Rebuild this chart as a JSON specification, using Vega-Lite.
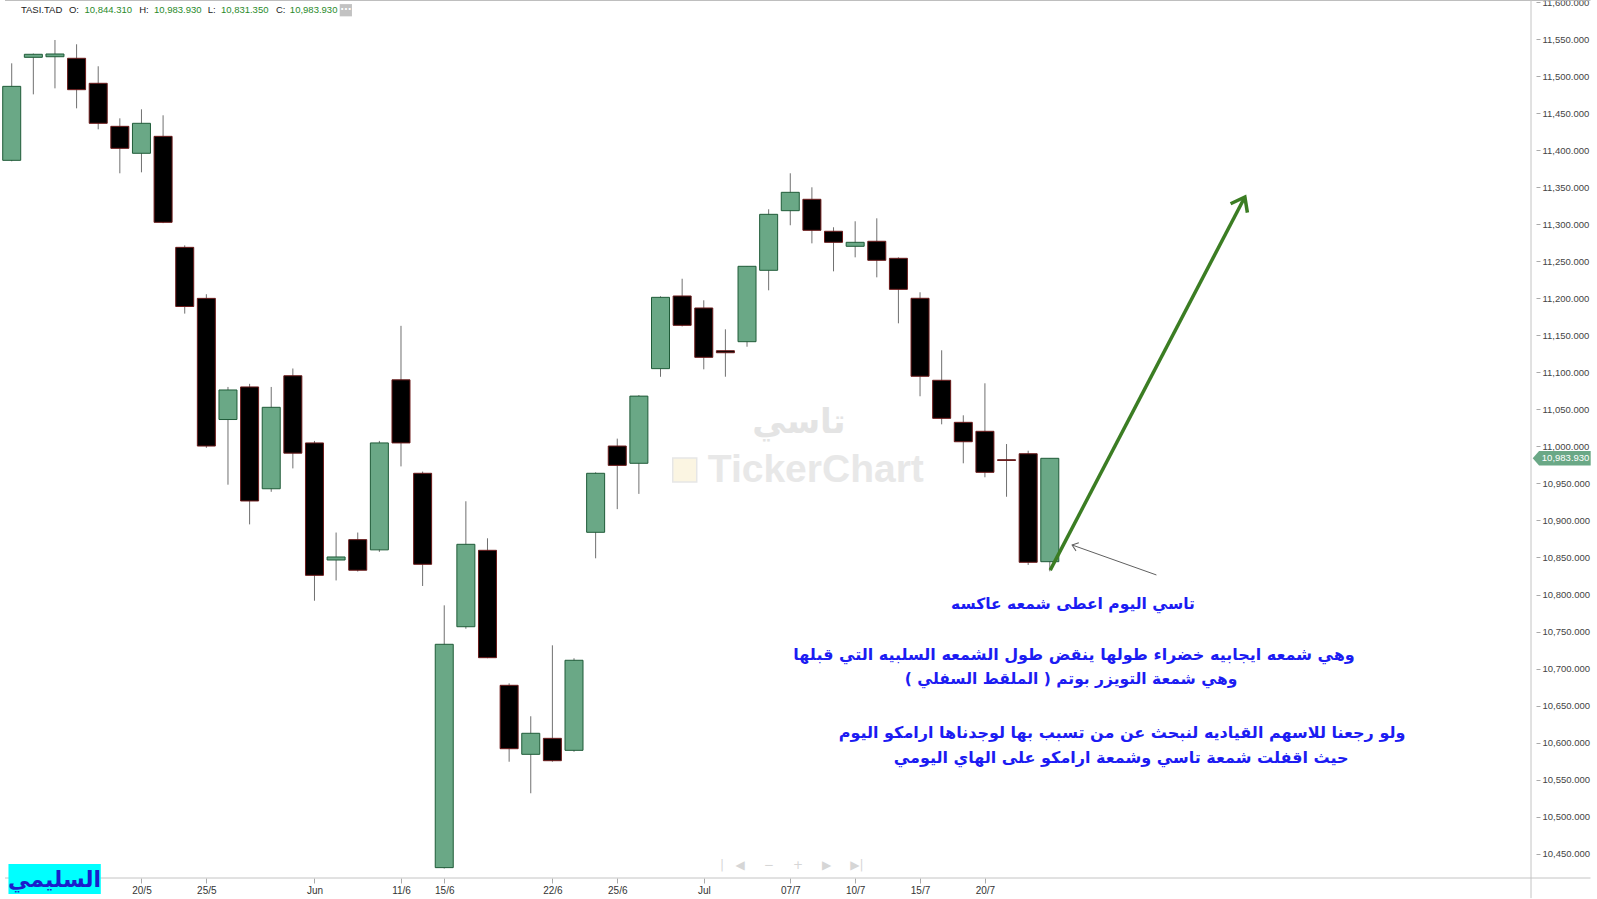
{
"$schema": "https://vega.github.io/schema/vega-lite/v6.json",
"width": 1536, "height": 878,
"autosize": {"type": "none"},
"padding": {"left": 0, "top": 0, "right": 61, "bottom": 21},
"background": "#ffffff",
"config": {"view": {"stroke": null},
 "axis": {"labelOverlap": false, "labelFlush": false, "grid": false, "domain": false, "title": null},
 "axisY": {"labelOverlap": false, "labelBound": false, "labelFont": "Liberation Sans", "labelFontSize": 9.5, "labelColor": "#444444", "tickSize": 4, "tickColor": "#aaaaaa", "labelPadding": 2},
 "axisX": {"labelOverlap": false, "labelFont": "Liberation Sans", "labelFontSize": 10, "labelColor": "#333333", "tickSize": 5, "tickColor": "#aaaaaa", "labelPadding": 2}},
"datasets": {"ohlc": [
{"d":"2025-05-12","n":1,"o":11386.3,"h":11517.3,"l":11385.0,"c":11486.2},
{"d":"2025-05-13","n":2,"o":11525.4,"h":11530.5,"l":11475.4,"c":11529.5},
{"d":"2025-05-14","n":3,"o":11526.2,"h":11548.8,"l":11483.5,"c":11529.9},
{"d":"2025-05-15","n":4,"o":11524.1,"h":11543.0,"l":11456.5,"c":11481.7},
{"d":"2025-05-18","n":5,"o":11490.3,"h":11513.3,"l":11428.2,"c":11436.3},
{"d":"2025-05-19","n":6,"o":11432.2,"h":11443.0,"l":11368.8,"c":11402.5},
{"d":"2025-05-20","n":7,"o":11395.8,"h":11455.2,"l":11370.1,"c":11436.3},
{"d":"2025-05-21","n":8,"o":11418.7,"h":11447.1,"l":11301.5,"c":11302.6},
{"d":"2025-05-22","n":9,"o":11268.8,"h":11271.5,"l":11179.3,"c":11188.9},
{"d":"2025-05-25","n":10,"o":11199.9,"h":11205.5,"l":10998.0,"c":11000.5},
{"d":"2025-05-26","n":11,"o":11036.3,"h":11080.3,"l":10948.3,"c":11076.2},
{"d":"2025-05-27","n":12,"o":11080.3,"h":11084.5,"l":10894.7,"c":10926.3},
{"d":"2025-05-28","n":13,"o":10942.8,"h":11080.3,"l":10938.7,"c":11052.8},
{"d":"2025-05-29","n":14,"o":11095.4,"h":11105.2,"l":10970.3,"c":10990.9},
{"d":"2025-06-01","n":15,"o":11004.7,"h":11007.4,"l":10791.6,"c":10825.9},
{"d":"2025-06-02","n":16,"o":10846.6,"h":10883.7,"l":10819.0,"c":10850.7},
{"d":"2025-06-03","n":17,"o":10874.1,"h":10883.7,"l":10831.0,"c":10832.8},
{"d":"2025-06-04","n":18,"o":10860.3,"h":11007.4,"l":10857.6,"c":11004.7},
{"d":"2025-06-11","n":19,"o":11089.9,"h":11162.8,"l":10973.0,"c":11004.7},
{"d":"2025-06-12","n":20,"o":10963.7,"h":10966.0,"l":10811.5,"c":10840.8},
{"d":"2025-06-15","n":21,"o":10431.2,"h":10785.4,"l":10430.0,"c":10732.8},
{"d":"2025-06-16","n":22,"o":10756.5,"h":10925.9,"l":10753.8,"c":10867.8},
{"d":"2025-06-17","n":23,"o":10859.7,"h":10875.9,"l":10714.0,"c":10714.7},
{"d":"2025-06-18","n":24,"o":10677.4,"h":10680.1,"l":10574.2,"c":10591.8},
{"d":"2025-06-19","n":25,"o":10584.2,"h":10635.6,"l":10531.6,"c":10612.6},
{"d":"2025-06-22","n":26,"o":10605.8,"h":10731.4,"l":10574.2,"c":10575.6},
{"d":"2025-06-23","n":27,"o":10589.6,"h":10713.9,"l":10587.7,"c":10711.2},
{"d":"2025-06-24","n":28,"o":10884.0,"h":10965.0,"l":10848.9,"c":10963.7},
{"d":"2025-06-25","n":29,"o":11000.5,"h":11010.5,"l":10915.3,"c":10974.4},
{"d":"2025-06-26","n":30,"o":10977.2,"h":11069.3,"l":10935.9,"c":11067.9},
{"d":"2025-06-29","n":31,"o":11105.0,"h":11202.7,"l":11094.0,"c":11201.3},
{"d":"2025-06-30","n":32,"o":11203.1,"h":11226.4,"l":11162.0,"c":11163.5},
{"d":"2025-07-01","n":33,"o":11186.9,"h":11197.3,"l":11104.1,"c":11120.3},
{"d":"2025-07-02","n":34,"o":11129.2,"h":11158.1,"l":11094.1,"c":11126.5},
{"d":"2025-07-03","n":35,"o":11141.4,"h":11243.5,"l":11134.6,"c":11243.2},
{"d":"2025-07-06","n":36,"o":11237.8,"h":11320.2,"l":11210.8,"c":11313.4},
{"d":"2025-07-07","n":37,"o":11318.3,"h":11368.8,"l":11298.6,"c":11343.1},
{"d":"2025-07-08","n":38,"o":11333.7,"h":11349.9,"l":11274.2,"c":11291.8},
{"d":"2025-07-09","n":39,"o":11290.5,"h":11295.9,"l":11236.4,"c":11275.6},
{"d":"2025-07-10","n":40,"o":11270.2,"h":11304.0,"l":11255.3,"c":11275.6},
{"d":"2025-07-13","n":41,"o":11277.0,"h":11308.0,"l":11228.3,"c":11251.3},
{"d":"2025-07-14","n":42,"o":11254.0,"h":11255.3,"l":11166.2,"c":11212.1},
{"d":"2025-07-15","n":43,"o":11200.0,"h":11208.1,"l":11067.7,"c":11094.7},
{"d":"2025-07-16","n":44,"o":11089.3,"h":11129.8,"l":11029.8,"c":11037.9},
{"d":"2025-07-17","n":45,"o":11032.5,"h":11042.0,"l":10977.2,"c":11006.3},
{"d":"2025-07-20","n":46,"o":11020.4,"h":11085.2,"l":10958.3,"c":10965.0},
{"d":"2025-07-21","n":47,"o":10982.0,"h":11003.2,"l":10932.0,"c":10981.0},
{"d":"2025-07-22","n":48,"o":10990.1,"h":10994.2,"l":10839.9,"c":10843.5},
{"d":"2025-07-23","n":49,"o":10844.31,"h":10983.93,"l":10831.35,"c":10983.93}
]},
"layer": [
{"data":{"name":"ohlc"},"mark":{"type":"rule","color":"#707070","strokeWidth":1},
 "encoding":{
  "x":{"field":"n","type":"quantitative","scale":{"domain":[0.69,71.25],"nice":false,"zero":false},
   "axis":{"orient":"bottom","title":null,"grid":false,"domain":false,"values":[7,10,15,19,21,26,29,33,37,40,43,46],"tickCount":60,
    "labelExpr":"datum.value==7?'20/5':datum.value==10?'25/5':datum.value==15?'Jun':datum.value==19?'11/6':datum.value==21?'15/6':datum.value==26?'22/6':datum.value==29?'25/6':datum.value==33?'Jul':datum.value==37?'07/7':datum.value==40?'10/7':datum.value==43?'15/7':datum.value==46?'20/7':''",
    "labelOverlap":false,"labelFlush":false}},
  "y":{"field":"l","type":"quantitative","scale":{"domain":[10417.2,11602.8],"nice":false,"zero":false},
   "axis":{"orient":"right","title":null,"grid":false,"domain":false,"format":",.3f",
    "values":[10450,10500,10550,10600,10650,10700,10750,10800,10850,10900,10950,11000,11050,11100,11150,11200,11250,11300,11350,11400,11450,11500,11550,11600],
    "labelOverlap":false,"labelFlush":false,"labelBound":false,"tickCount":40}},
  "y2":{"field":"h"}}},
{"data":{"values":[{}]},"mark":{"type":"rule","color":"#b4b4b4","strokeWidth":1,"clip":false},
 "encoding":{"x":{"datum":0.69,"type":"quantitative","scale":{"domain":[0.69,71.25],"nice":false,"zero":false}},"x2":{"datum":74},
 "y":{"datum":11602.3,"type":"quantitative","scale":{"domain":[10417.2,11602.8],"nice":false,"zero":false}}}},
{"data":{"values":[{}]},"mark":{"type":"rule","color":"#c4c4c4","strokeWidth":1,"clip":false},
 "encoding":{"x":{"datum":0.69,"type":"quantitative","scale":{"domain":[0.69,71.25],"nice":false,"zero":false}},"x2":{"datum":74},
 "y":{"datum":10417.2,"type":"quantitative","scale":{"domain":[10417.2,11602.8],"nice":false,"zero":false}}}},
{"data":{"values":[{}]},"mark":{"type":"rule","color":"#c4c4c4","strokeWidth":1,"clip":false},
 "encoding":{"x":{"datum":71.25,"type":"quantitative","scale":{"domain":[0.69,71.25],"nice":false,"zero":false}},
 "y":{"datum":11602.8,"type":"quantitative","scale":{"domain":[10417.2,11602.8],"nice":false,"zero":false}},"y2":{"datum":10390}}},
{"data":{"values":[{}]},"mark":{"type":"text","text":"تاسي","font":"DejaVu Sans","fontWeight":"bold","fontSize":34,"color":"#e4e4e4","align":"center","baseline":"middle"},
 "encoding":{"x":{"datum":37.4,"type":"quantitative","scale":{"domain":[0.69,71.25],"nice":false,"zero":false}},
 "y":{"datum":11031.6,"type":"quantitative","scale":{"domain":[10417.2,11602.8],"nice":false,"zero":false}}}},
{"data":{"values":[{}]},"mark":{"type":"text","text":"TickerChart","font":"Liberation Sans","fontWeight":"bold","fontSize":39,"color":"#e8e8e8","align":"center","baseline":"middle"},
 "encoding":{"x":{"datum":38.18,"type":"quantitative","scale":{"domain":[0.69,71.25],"nice":false,"zero":false}},
 "y":{"datum":10968.1,"type":"quantitative","scale":{"domain":[10417.2,11602.8],"nice":false,"zero":false}}}},
{"data":{"values":[{}]},"mark":{"type":"point","shape":"square","size":576,"filled":true,"fill":"#fbf5e2","stroke":"#e6e6e6","strokeWidth":1.5,"opacity":1},
 "encoding":{"x":{"datum":32.12,"type":"quantitative","scale":{"domain":[0.69,71.25],"nice":false,"zero":false}},
 "y":{"datum":10968.1,"type":"quantitative","scale":{"domain":[10417.2,11602.8],"nice":false,"zero":false}}}},
{"data":{"name":"ohlc"},"mark":{"type":"bar","orient":"vertical","size":18,"strokeWidth":1},
 "encoding":{
  "x":{"field":"n","type":"quantitative","scale":{"domain":[0.69,71.25],"nice":false,"zero":false}},
  "y":{"field":"o","type":"quantitative","scale":{"domain":[10417.2,11602.8],"nice":false,"zero":false}},
  "y2":{"field":"c"},
  "fill":{"condition":{"test":"datum.c >= datum.o","value":"#6aa886"},"value":"#000000"},
  "stroke":{"condition":{"test":"datum.c >= datum.o","value":"#1f5b38"},"value":"#6b1a1a"}}},
{"data":{"values":[{}]},"mark":{"type":"rule","color":"#3b7d23","strokeWidth":3.5,"clip":false},
 "encoding":{"x":{"datum":49.02,"type":"quantitative","scale":{"domain":[0.69,71.25],"nice":false,"zero":false}},"x2":{"datum":58.02},
 "y":{"datum":10833,"type":"quantitative","scale":{"domain":[10417.2,11602.8],"nice":false,"zero":false}},"y2":{"datum":11336.8}}},
{"data":{"values":[{}]},"mark":{"type":"point","shape":"M-0.6,0.8 L0,0 L0.6,0.8","size":1000,"filled":false,"stroke":"#3b7d23","strokeWidth":3.5,"angle":27.7,"opacity":1},
 "encoding":{"x":{"datum":58.02,"type":"quantitative","scale":{"domain":[0.69,71.25],"nice":false,"zero":false}},
 "y":{"datum":11336.8,"type":"quantitative","scale":{"domain":[10417.2,11602.8],"nice":false,"zero":false}}}},
{"data":{"values":[{}]},"mark":{"type":"rule","color":"#606060","strokeWidth":1,"clip":false},
 "encoding":{"x":{"datum":53.93,"type":"quantitative","scale":{"domain":[0.69,71.25],"nice":false,"zero":false}},"x2":{"datum":50.03},
 "y":{"datum":10826.4,"type":"quantitative","scale":{"domain":[10417.2,11602.8],"nice":false,"zero":false}},"y2":{"datum":10866.9}}},
{"data":{"values":[{}]},"mark":{"type":"point","shape":"M-0.6,0.8 L0,0 L0.6,0.8","size":200,"filled":false,"stroke":"#606060","strokeWidth":1,"angle":289.4,"opacity":1},
 "encoding":{"x":{"datum":50.03,"type":"quantitative","scale":{"domain":[0.69,71.25],"nice":false,"zero":false}},
 "y":{"datum":10866.9,"type":"quantitative","scale":{"domain":[10417.2,11602.8],"nice":false,"zero":false}}}},
{"data":{"values":[{}]},"mark":{"type":"text","text":"تاسي اليوم اعطى شمعه عاكسه","font":"DejaVu Sans","fontWeight":"bold","fontSize":15.5,"color":"#1c1cf2","align":"center","baseline":"middle"},
 "encoding":{"x":{"datum":50.07,"type":"quantitative","scale":{"domain":[0.69,71.25],"nice":false,"zero":false}},
 "y":{"datum":10787.2,"type":"quantitative","scale":{"domain":[10417.2,11602.8],"nice":false,"zero":false}}}},
{"data":{"values":[{}]},"mark":{"type":"text","text":"وهي شمعه ايجابيه خضراء طولها ينقض طول الشمعه السلبيه التي قبلها","font":"DejaVu Sans","fontWeight":"bold","fontSize":16,"color":"#1c1cf2","align":"center","baseline":"middle"},
 "encoding":{"x":{"datum":50.12,"type":"quantitative","scale":{"domain":[0.69,71.25],"nice":false,"zero":false}},
 "y":{"datum":10718.3,"type":"quantitative","scale":{"domain":[10417.2,11602.8],"nice":false,"zero":false}}}},
{"data":{"values":[{}]},"mark":{"type":"text","text":"وهي شمعة التويزر بوتم ( الملقط السفلي )","font":"DejaVu Sans","fontWeight":"bold","fontSize":15.5,"color":"#1c1cf2","align":"center","baseline":"middle"},
 "encoding":{"x":{"datum":49.98,"type":"quantitative","scale":{"domain":[0.69,71.25],"nice":false,"zero":false}},
 "y":{"datum":10685.9,"type":"quantitative","scale":{"domain":[10417.2,11602.8],"nice":false,"zero":false}}}},
{"data":{"values":[{}]},"mark":{"type":"text","text":"ولو رجعنا للاسهم القياديه لنبحث عن من تسبب بها لوجدناها ارامكو اليوم","font":"DejaVu Sans","fontWeight":"bold","fontSize":16,"color":"#1c1cf2","align":"center","baseline":"middle"},
 "encoding":{"x":{"datum":52.34,"type":"quantitative","scale":{"domain":[0.69,71.25],"nice":false,"zero":false}},
 "y":{"datum":10613,"type":"quantitative","scale":{"domain":[10417.2,11602.8],"nice":false,"zero":false}}}},
{"data":{"values":[{}]},"mark":{"type":"text","text":"حيث اقفلت شمعة تاسي وشمعة ارامكو على الهاي اليومي","font":"DejaVu Sans","fontWeight":"bold","fontSize":16,"color":"#1c1cf2","align":"center","baseline":"middle"},
 "encoding":{"x":{"datum":52.3,"type":"quantitative","scale":{"domain":[0.69,71.25],"nice":false,"zero":false}},
 "y":{"datum":10579.3,"type":"quantitative","scale":{"domain":[10417.2,11602.8],"nice":false,"zero":false}}}},
{"data":{"name":"ohlc"},"transform":[{"filter":"datum.n == 49"}],"mark":{"type":"point","shape":"M-1,0 L-0.78,-0.25 L1,-0.25 L1,0.25 L-0.78,0.25 Z","size":3364,"filled":true,"fill":"#6aa886","strokeWidth":0,"opacity":1,"clip":false},
 "encoding":{"x":{"datum":72.67,"type":"quantitative","scale":{"domain":[0.69,71.25],"nice":false,"zero":false}},
 "y":{"field":"c","type":"quantitative","scale":{"domain":[10417.2,11602.8],"nice":false,"zero":false}}}},
{"data":{"name":"ohlc"},"transform":[{"filter":"datum.n == 49"}],"mark":{"type":"text","font":"Liberation Sans","fontSize":9.5,"color":"#ffffff","align":"center","baseline":"middle","clip":false},
 "encoding":{"x":{"datum":72.85,"type":"quantitative","scale":{"domain":[0.69,71.25],"nice":false,"zero":false}},
 "y":{"field":"c","type":"quantitative","scale":{"domain":[10417.2,11602.8],"nice":false,"zero":false}},
 "text":{"field":"c","format":",.3f"}}},
{"data":{"values":[{}]},"mark":{"type":"text","text":"TASI.TAD","font":"Liberation Sans","fontSize":9.5,"color":"#222222","align":"left","baseline":"middle"},
 "encoding":{"x":{"datum":1.427,"type":"quantitative","scale":{"domain":[0.69,71.25],"nice":false,"zero":false}},
 "y":{"datum":11589,"type":"quantitative","scale":{"domain":[10417.2,11602.8],"nice":false,"zero":false}}}},
{"data":{"values":[{}]},"mark":{"type":"text","text":"O:","font":"Liberation Sans","fontSize":9.5,"color":"#222222","align":"left","baseline":"middle"},
 "encoding":{"x":{"datum":3.646,"type":"quantitative","scale":{"domain":[0.69,71.25],"nice":false,"zero":false}},
 "y":{"datum":11589,"type":"quantitative","scale":{"domain":[10417.2,11602.8],"nice":false,"zero":false}}}},
{"data":{"values":[{}]},"mark":{"type":"text","text":"H:","font":"Liberation Sans","fontSize":9.5,"color":"#222222","align":"left","baseline":"middle"},
 "encoding":{"x":{"datum":6.893,"type":"quantitative","scale":{"domain":[0.69,71.25],"nice":false,"zero":false}},
 "y":{"datum":11589,"type":"quantitative","scale":{"domain":[10417.2,11602.8],"nice":false,"zero":false}}}},
{"data":{"values":[{}]},"mark":{"type":"text","text":"L:","font":"Liberation Sans","fontSize":9.5,"color":"#222222","align":"left","baseline":"middle"},
 "encoding":{"x":{"datum":10.063,"type":"quantitative","scale":{"domain":[0.69,71.25],"nice":false,"zero":false}},
 "y":{"datum":11589,"type":"quantitative","scale":{"domain":[10417.2,11602.8],"nice":false,"zero":false}}}},
{"data":{"values":[{}]},"mark":{"type":"text","text":"C:","font":"Liberation Sans","fontSize":9.5,"color":"#222222","align":"left","baseline":"middle"},
 "encoding":{"x":{"datum":13.219,"type":"quantitative","scale":{"domain":[0.69,71.25],"nice":false,"zero":false}},
 "y":{"datum":11589,"type":"quantitative","scale":{"domain":[10417.2,11602.8],"nice":false,"zero":false}}}},
{"data":{"name":"ohlc"},"transform":[{"filter":"datum.n == 49"}],"mark":{"type":"text","font":"Liberation Sans","fontSize":9.5,"color":"#2a8a2a","align":"left","baseline":"middle"},
 "encoding":{"x":{"datum":4.367,"type":"quantitative","scale":{"domain":[0.69,71.25],"nice":false,"zero":false}},
 "y":{"datum":11589,"type":"quantitative","scale":{"domain":[10417.2,11602.8],"nice":false,"zero":false}},"text":{"field":"o","format":",.3f"}}},
{"data":{"name":"ohlc"},"transform":[{"filter":"datum.n == 49"}],"mark":{"type":"text","font":"Liberation Sans","fontSize":9.5,"color":"#2a8a2a","align":"left","baseline":"middle"},
 "encoding":{"x":{"datum":7.582,"type":"quantitative","scale":{"domain":[0.69,71.25],"nice":false,"zero":false}},
 "y":{"datum":11589,"type":"quantitative","scale":{"domain":[10417.2,11602.8],"nice":false,"zero":false}},"text":{"field":"h","format":",.3f"}}},
{"data":{"name":"ohlc"},"transform":[{"filter":"datum.n == 49"}],"mark":{"type":"text","font":"Liberation Sans","fontSize":9.5,"color":"#2a8a2a","align":"left","baseline":"middle"},
 "encoding":{"x":{"datum":10.674,"type":"quantitative","scale":{"domain":[0.69,71.25],"nice":false,"zero":false}},
 "y":{"datum":11589,"type":"quantitative","scale":{"domain":[10417.2,11602.8],"nice":false,"zero":false}},"text":{"field":"l","format":",.3f"}}},
{"data":{"name":"ohlc"},"transform":[{"filter":"datum.n == 49"}],"mark":{"type":"text","font":"Liberation Sans","fontSize":9.5,"color":"#2a8a2a","align":"left","baseline":"middle"},
 "encoding":{"x":{"datum":13.862,"type":"quantitative","scale":{"domain":[0.69,71.25],"nice":false,"zero":false}},
 "y":{"datum":11589,"type":"quantitative","scale":{"domain":[10417.2,11602.8],"nice":false,"zero":false}},"text":{"field":"c","format":",.3f"}}},
{"data":{"values":[{}]},"mark":{"type":"point","shape":"square","size":150,"filled":true,"fill":"#c2c2c2","strokeWidth":0,"opacity":1},
 "encoding":{"x":{"datum":16.45,"type":"quantitative","scale":{"domain":[0.69,71.25],"nice":false,"zero":false}},
 "y":{"datum":11589,"type":"quantitative","scale":{"domain":[10417.2,11602.8],"nice":false,"zero":false}}}},
{"data":{"values":[{}]},"mark":{"type":"text","text":"···","font":"DejaVu Sans","fontWeight":"bold","fontSize":10,"color":"#ffffff","align":"center","baseline":"middle"},
 "encoding":{"x":{"datum":16.45,"type":"quantitative","scale":{"domain":[0.69,71.25],"nice":false,"zero":false}},
 "y":{"datum":11589,"type":"quantitative","scale":{"domain":[10417.2,11602.8],"nice":false,"zero":false}}}},
{"data":{"values":[{}]},"mark":{"type":"text","text":"|\u00a0\u00a0\u00a0\u25c0\u00a0\u00a0\u00a0\u00a0\u00a0\u2212\u00a0\u00a0\u00a0\u00a0\u00a0+\u00a0\u00a0\u00a0\u00a0\u00a0\u25b6\u00a0\u00a0\u00a0\u00a0\u00a0\u25b6|","font":"DejaVu Sans","fontSize":12,"color":"#d6d6d6","align":"center","baseline":"middle"},
 "encoding":{"x":{"datum":37.07,"type":"quantitative","scale":{"domain":[0.69,71.25],"nice":false,"zero":false}},
 "y":{"datum":10435.3,"type":"quantitative","scale":{"domain":[10417.2,11602.8],"nice":false,"zero":false}}}},
{"data":{"values":[{}]},"mark":{"type":"rect","fill":"#00ffff","clip":false},
 "encoding":{"x":{"datum":0.85,"type":"quantitative","scale":{"domain":[0.69,71.25],"nice":false,"zero":false}},"x2":{"datum":5.12},
 "y":{"datum":10436.1,"type":"quantitative","scale":{"domain":[10417.2,11602.8],"nice":false,"zero":false}},"y2":{"datum":10395.6}}},
{"data":{"values":[{}]},"mark":{"type":"text","text":"السليمي","font":"DejaVu Sans","fontWeight":"bold","fontSize":22,"color":"#1c1ccc","align":"center","baseline":"middle","clip":false},
 "encoding":{"x":{"datum":2.98,"type":"quantitative","scale":{"domain":[0.69,71.25],"nice":false,"zero":false}},
 "y":{"datum":10414.5,"type":"quantitative","scale":{"domain":[10417.2,11602.8],"nice":false,"zero":false}}}}
]
}
